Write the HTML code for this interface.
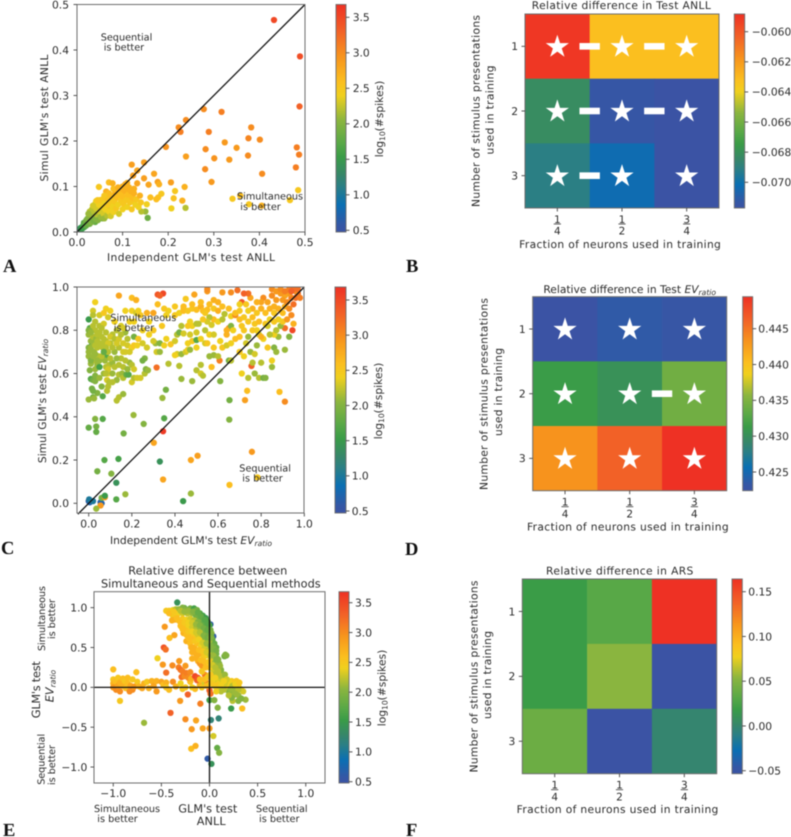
<!DOCTYPE html>
<html lang="en">
<head>
<meta charset="utf-8">
<title>GLM comparison figure</title>
<style>
html,body{margin:0;padding:0;background:#fff;}
#figure{display:block;width:791px;height:837px;filter:blur(0.45px);font-family:"DejaVu Sans","Liberation Sans",sans-serif;fill:#2b2b2b;text-rendering:geometricPrecision;}
.lab{font-size:10.7px;}
.note{font-size:9.7px;}
.big{font-size:11.3px;}
.letter{font-family:"Liberation Serif",serif;font-weight:bold;font-size:18.5px;fill:#111;}
.it{font-style:italic;}
.sub{font-size:7.6px;font-style:italic;}
.sub10{font-size:7.6px;}
</style>
</head>
<body>
<svg id="figure" xmlns="http://www.w3.org/2000/svg" width="791" height="837" viewBox="0 0 791 837">
<defs id="defs"></defs>

<g>
  <g id="a-marks"></g>
  <g id="a-axes"></g>
  <text class="lab" x="191" y="261" text-anchor="middle" textLength="168">Independent GLM's test ANLL</text>
  <text class="lab" transform="rotate(-90 47.8 118)" x="47.8" y="118" text-anchor="middle" textLength="127">Simul GLM's test ANLL</text>
  <text class="note" x="100.7" y="40.5">Sequential</text>
  <text class="note" x="103.7" y="50.5">is better</text>
  <text class="note" x="237" y="199.5">Simultaneous</text>
  <text class="note" x="240.3" y="210">is better</text>
  <g id="a-cbar"></g>
  <text class="lab" transform="rotate(-90 382.8 119)" x="382.8" y="119" text-anchor="middle">log<tspan class="sub10" dy="2">10</tspan><tspan dy="-2">(#spikes)</tspan></text>
  <text class="letter" x="3" y="272">A</text>
</g>

<g>
  <g id="b-marks"></g>
  <text class="lab" x="621.3" y="9" text-anchor="middle" textLength="179">Relative difference in Test ANLL</text>
  <text class="lab" x="620" y="248" text-anchor="middle" textLength="201.7">Fraction of neurons used in training</text>
  <text class="lab" transform="rotate(-90 479.7 111)" x="479.7" y="111" text-anchor="middle" textLength="192">Number of stimulus presentations</text>
  <text class="lab" transform="rotate(-90 493.7 110)" x="493.7" y="110" text-anchor="middle" textLength="89">used in training</text>
  <g id="b-cbar"></g>
  <text class="letter" x="406" y="272">B</text>
</g>

<g>
  <g id="c-marks"></g>
  <g id="c-axes"></g>
  <text class="lab" x="191" y="544" text-anchor="middle">Independent GLM's test <tspan class="it">EV</tspan><tspan class="sub" dy="2">ratio</tspan></text>
  <text class="lab" transform="rotate(-90 46 401)" x="46" y="401" text-anchor="middle">Simul GLM's test <tspan class="it">EV</tspan><tspan class="sub" dy="2">ratio</tspan></text>
  <text class="note" x="110.3" y="321">Simultaneous</text>
  <text class="note" x="113.7" y="331">is better</text>
  <text class="note" x="239.3" y="471.5">Sequential</text>
  <text class="note" x="242.3" y="481.5">is better</text>
  <g id="c-cbar"></g>
  <text class="lab" transform="rotate(-90 381.8 401)" x="381.8" y="401" text-anchor="middle">log<tspan class="sub10" dy="2">10</tspan><tspan dy="-2">(#spikes)</tspan></text>
  <text class="letter" x="1" y="554">C</text>
</g>

<g>
  <g id="d-marks"></g>
  <text class="lab" x="629.7" y="293" text-anchor="middle">Relative difference in Test <tspan class="it">EV</tspan><tspan class="sub" dy="2">ratio</tspan></text>
  <text class="lab" x="627.8" y="530.5" text-anchor="middle" textLength="201.7">Fraction of neurons used in training</text>
  <text class="lab" transform="rotate(-90 487.7 394)" x="487.7" y="394" text-anchor="middle" textLength="192">Number of stimulus presentations</text>
  <text class="lab" transform="rotate(-90 502 392)" x="502" y="392" text-anchor="middle" textLength="88">used in training</text>
  <g id="d-cbar"></g>
  <text class="letter" x="405" y="555">D</text>
</g>

<g>
  <g id="e-marks"></g>
  <g id="e-axes"></g>
  <text class="big" x="207.8" y="574.3" text-anchor="middle" textLength="159">Relative difference between</text>
  <text class="big" x="210.8" y="587.5" text-anchor="middle" textLength="219.7">Simultaneous and Sequential methods</text>
  <text class="note" x="94" y="812">Simultaneous</text>
  <text class="note" x="97.3" y="822">is better</text>
  <text class="big" x="207.8" y="812.5" text-anchor="middle" textLength="59">GLM's test</text>
  <text class="big" x="211.2" y="825" text-anchor="middle" textLength="29">ANLL</text>
  <text class="note" x="256" y="812">Sequential</text>
  <text class="note" x="259" y="822">is better</text>
  <text class="big" transform="rotate(-90 39.8 689.7)" x="39.8" y="689.7" text-anchor="middle" textLength="57">GLM's test</text>
  <text class="big" transform="rotate(-90 53.3 686)" x="53.3" y="686" text-anchor="middle"><tspan class="it">EV</tspan><tspan class="sub" dy="2">ratio</tspan></text>
  <text class="note" transform="rotate(-90 45.2 618.5)" x="45.2" y="618.5" text-anchor="middle" textLength="65">Simultaneous</text>
  <text class="note" transform="rotate(-90 55 619)" x="55" y="619" text-anchor="middle" textLength="40">is better</text>
  <text class="note" transform="rotate(-90 44.5 759.3)" x="44.5" y="759.3" text-anchor="middle" textLength="51">Sequential</text>
  <text class="note" transform="rotate(-90 55 765)" x="55" y="765" text-anchor="middle" textLength="40">is better</text>
  <g id="e-cbar"></g>
  <text class="lab" transform="rotate(-90 385.5 688)" x="385.5" y="688" text-anchor="middle">log<tspan class="sub10" dy="2">10</tspan><tspan dy="-2">(#spikes)</tspan></text>
  <text class="letter" x="3" y="836">E</text>
</g>

<g>
  <g id="f-marks"></g>
  <text class="lab" x="619.7" y="574.5" text-anchor="middle" textLength="147.3">Relative difference in ARS</text>
  <text class="lab" x="617.5" y="813" text-anchor="middle" textLength="201.7">Fraction of neurons used in training</text>
  <text class="lab" transform="rotate(-90 477.7 676.5)" x="477.7" y="676.5" text-anchor="middle" textLength="192">Number of stimulus presentations</text>
  <text class="lab" transform="rotate(-90 491 675)" x="491" y="675" text-anchor="middle" textLength="88">used in training</text>
  <g id="f-cbar"></g>
  <text class="letter" x="406" y="836">F</text>
</g>
</svg>

<script>
/* ---------- Panel A data: test ANLL ---------- */
const anllIndependent = [
.432,.489,.488,.278,.317,.239,.223,.227,.382,.289,
.376,.401,.195,.282,.324,.350,.482,.487,.375,.239,
.301,.334,.480,.281,.406,.295,.485,.120,.147,.132,
.123,.169,.147,.132,.157,.177,.180,.206,.236,.048,
.070,.078,.064,.215,.185,.161,.178,.174,.212,.231,
.207,.238,.153,.150,.155,.141,.341,.358,.377,.405,.467,
.015,.018,.022,.026,.03,.034,.038,.04,.044,.048,
.052,.056,.06,.064,.068,.072,.076,.08,.085,.09,
.095,.1,.105,.11,.115,.12,.125,.032,.04,.048,
.003,.005,.006,.008,.01,.012,.012,.015,.016,.018,
.02,.02,.022,.024,.025,.027,.028,.03,.03,.032,
.033,.034,.036,.038,.038,.04,.042,.042,.044,.046,
.048,.05,.05,.052,.054,.056,.058,.06,.06,.062,
.065,.066,.068,.07,.072,.074,.076,.078,.08,.082,
.084,.086,.088,.09,.092,.094,.096,.098,.1,.1,
.102,.105,.106,.108,.11,.112,.114,.116,.118,.12,
.122,.125,.128,.13,.135,.138,.14,.045,.035,.028,
.025,.07,.06,.08,.09,.1,.11];
const anllSimul = [
.466,.386,.276,.270,.264,.246,.230,.220,.230,.220,
.206,.203,.187,.182,.197,.185,.186,.170,.168,.166,
.162,.159,.142,.138,.128,.110,.092,.148,.153,.135,
.124,.128,.118,.107,.104,.110,.105,.109,.099,.099,
.109,.107,.089,.090,.084,.076,.076,.072,.074,.069,
.052,.053,.061,.045,.031,.045,.073,.080,.061,.058,.070,
.02,.013,.028,.018,.035,.024,.05,.022,.056,.034,
.064,.03,.072,.042,.07,.052,.062,.075,.06,.09,
.08,.065,.075,.095,.078,.068,.095,.045,.062,.05,
.003,.006,.004,.009,.007,.012,.008,.016,.011,.02,
.014,.025,.017,.03,.02,.036,.018,.042,.028,.022,
.05,.035,.025,.058,.045,.03,.068,.052,.038,.026,
.06,.07,.045,.033,.056,.072,.04,.063,.03,.05,
.075,.036,.06,.045,.07,.035,.08,.055,.044,.068,
.088,.052,.076,.06,.04,.085,.07,.095,.05,.078,
.062,.09,.105,.07,.055,.082,.098,.065,.09,.05,
.075,.085,.06,.072,.055,.08,.065,.07,.058,.045,
.04,.085,.08,.095,.098,.1,.108];
const anllSpikes = [
3.5,3.45,3.3,3.0,3.1,3.0,3.0,3.1,3.0,3.1,
3.05,3.0,2.95,3.0,2.9,2.9,3.1,3.1,3.0,2.85,
2.95,2.9,3.1,3.0,3.0,2.9,2.5,2.85,2.85,2.8,
2.85,2.8,2.85,2.8,2.8,2.85,2.7,2.85,2.7,2.5,
2.6,2.7,2.7,2.5,2.5,2.6,2.55,2.6,2.55,2.7,
2.4,2.2,2.4,2.1,1.85,2.2,2.5,2.6,2.5,2.7,2.5,
1.7,1.7,1.9,1.8,2.0,1.8,2.1,1.8,2.2,1.9,
2.3,1.9,2.4,2.1,2.5,2.3,2.4,2.5,2.5,2.6,
2.5,2.5,2.5,2.6,2.5,2.5,2.7,2.1,2.3,2.2,
1.0,1.2,1.3,1.4,1.5,1.6,1.5,1.7,1.6,1.8,
1.8,1.9,1.8,2.0,1.9,2.0,1.9,2.1,2.0,2.0,
2.2,2.1,1.9,2.3,2.2,2.0,2.4,2.3,2.2,2.0,
2.4,2.5,2.3,2.1,2.4,2.5,2.3,2.4,2.1,2.4,
2.6,2.2,2.5,2.4,2.5,2.3,2.6,2.4,2.4,2.5,
2.7,2.5,2.6,2.4,2.3,2.6,2.5,2.7,2.4,2.6,
2.5,2.7,2.8,2.5,2.4,2.6,2.7,2.5,2.7,2.5,
2.6,2.7,2.4,2.5,2.4,2.7,2.5,2.5,2.3,2.2,
2.1,2.6,2.5,2.6,2.7,2.7,2.7];

/* ---------- Panel C data: test EV ratio ---------- */
const evIndependent = [
0,.005,.002,.02,.055,.06,.055,.06,.075,.075,
.035,.128,.17,.128,.105,.04,.073,.138,.33,.345,
.474,.505,.474,.438,.653,.757,.783,.302,.345,.35,
.255,.208,.162,.03,.065,.035,.035,0,.342,.358,
.653,.652,.725,.735,.885,.91,.315,.607,.755,.945,
0,.005,0,.01,0,.015,.02,.025,.03,0,
.01,.005,.03,.04,.05,.045,.04,.035,.03,.05,
.06,.065,.08,.075,.09,.095,.09,.085,.09,.085,
.095,.01,.02,.03,.015,.04,.02,0,.025,.065,
.13,.14,.16,.14,.11,.13,.155,.16,.175,.185,
.2,.21,.225,.24,.26,.265,.275,.19,.2,.21,
.17,.15,.13,.11,.12,.14,.16,.18,.2,.21,
.225,.1,.11,.13,.15,.12,.08,.07,.09,.05,
.02,.02,.03,.08,.1,.07,.14,.2,.22,.2,
.22,.17,.19,.21,.23,.24,.27,.3,.32,.32,
.345,.33,.25,.28,.3,.21,.17,.16,.23,.25,
.27,.31,.33,.26,.25,.315,.33,.35,.38,.37,
.42,.43,.48,.5,.52,.53,.52,.41,.4,.43,
.45,.46,.47,.41,.42,.44,.46,.48,.48,.5,
.5,.51,.52,.54,.55,.56,.57,.58,.56,.58,
.57,.6,.61,.61,.62,.64,.65,.66,.66,.64,
.65,.66,.67,.68,.7,.7,.72,.73,.74,.75,
.76,.72,.71,.74,.77,.79,.81,.82,.8,.77,
.78,.79,.81,.83,.85,.86,.87,.85,.88,.91,
.93,.91,.86,.87,.89,.9,.92,.94,.95,.82,
.83,.84,.86,.88,.9,.91,.93,.95,.96,.94,
.97,.98,.96,.93,.91,.89,.87,.85,.86,.83,
.81,.8,.78,.76,.75,.74,.72,.71,.69,.66,
.62,.55,.55,.49,.45,.44,.37,.35,.4,.42,
.44,.46,.48,.5,.52,.53,.55,.58,.6,.63,
.65,.66,.68,.7,.71,.73,.74,.7,.68,.58,
.6,.56,.55,.53,.62,.64,.47,.46,.5,.77,
.78,.79,.8,.76,.84,
0,.01,.02,.03,.04,.05,.06,.07,.08,.09,
0,.01,.02,.03,.04,.05,.06,.07,.08,.1,
.01,.02,.03,.04,.05,.06,.07,.08,.1,.11,
.12,.13,.14,.15,.16,.17,.18,.19,.12,.14,
.16,.18,.03,.05,.07,.09,.11,.02,.06,.08,
.85,.87,.89,.91,.93,.95,.97,.9,.92,.94,
.8,.82,.84,.86,.88,.74,.76,.78,.72,.7,
.62,.6,.56,.52,.48,.44,.4,.36,.58,.54,
.28,.3,.34,.36,.4,.43,.47,.5,.54,.58];
const evSimul = [
.01,.005,.018,.01,.005,0,-.01,.025,.028,.035,
-.025,.018,.042,.095,.137,.148,.2,.205,.193,.11,
.2,.22,.045,.01,.085,.238,.12,.28,.333,.393,
.367,.408,.323,.39,.39,.355,.33,.35,.487,.525,
.477,.387,.477,.52,.515,.47,.628,.66,.635,.8,
.85,.81,.78,.75,.72,.73,.77,.70,.66,.68,
.645,.615,.62,.64,.63,.68,.72,.76,.8,.82,
.77,.72,.68,.66,.70,.64,.60,.57,.54,.52,
.56,.575,.57,.565,.53,.51,.49,.48,.485,.495,
.475,.49,.505,.595,.6,.57,.6,.58,.595,.595,
.56,.58,.58,.58,.6,.62,.615,.65,.64,.62,
.66,.67,.67,.65,.7,.72,.74,.73,.72,.73,
.73,.74,.78,.8,.82,.84,.79,.83,.86,.87,
.89,.87,.93,.9,.89,.88,.96,.95,.94,.89,
.88,.89,.84,.84,.89,.87,.88,.88,.92,.965,
.97,.96,.8,.78,.8,.77,.79,.81,.76,.74,
.72,.74,.74,.67,.66,.7,.7,.73,.735,.645,
.635,.575,.565,.615,.6,.59,.64,.69,.685,.69,
.7,.71,.71,.78,.79,.785,.74,.75,.82,.79,
.755,.83,.76,.74,.74,.78,.825,.72,.68,.685,
.63,.68,.565,.75,.72,.73,.66,.66,.74,.78,
.81,.82,.8,.76,.7,.77,.8,.74,.77,.7,
.65,.68,.6,.58,.6,.58,.58,.58,.65,.69,
.73,.78,.76,.72,.66,.72,.7,.63,.77,.71,
.77,.81,.78,.8,.82,.84,.85,.87,.83,.83,
.82,.85,.88,.85,.88,.91,.9,.92,.95,.95,
.97,.95,.98,.97,.96,.97,.94,.96,.91,.93,
.95,.9,.88,.9,.95,.97,.97,.93,.985,.975,
.975,.98,.99,.965,.945,.9,.89,.9,.87,.88,
.89,.89,.9,.895,.91,.89,.895,.9,.89,.875,
.9,.865,.87,.85,.82,.92,.89,.92,.88,.85,
.84,.86,.84,.85,.85,.8,.84,.82,.83,.83,
.8,.84,.77,.8,.78,
.7,.72,.74,.73,.75,.74,.73,.74,.75,.74,
.8,.79,.82,.84,.78,.79,.81,.76,.72,.77,
.66,.68,.69,.66,.66,.68,.7,.63,.67,.72,
.76,.74,.76,.78,.7,.7,.76,.7,.63,.64,
.63,.62,.59,.58,.6,.62,.56,.52,.54,.6,
.99,.98,.99,.98,.99,.99,.99,.94,.93,.98,
.93,.88,.9,.84,.9,.84,.86,.93,.86,.89,
.91,.93,.92,.93,.92,.91,.91,.87,.94,.88,
.84,.75,.82,.76,.75,.82,.78,.72,.8,.78];
const evSpikes = [
.6,.7,1.0,1.0,.6,.7,2.9,1.9,2.9,1.5,
2.1,1.7,2.1,1.4,2.0,1.9,1.7,1.6,1.4,2.8,
2.8,2.85,2.1,1.5,2.6,2.9,2.5,2.8,3.6,1.7,
2.0,2.1,1.9,2.0,1.7,1.9,1.8,1.8,2.1,1.9,
1.9,2.0,2.85,2.6,2.6,3.0,3.2,3.1,3.3,3.5,
1.5,1.7,2.1,2.1,2.0,1.6,2.2,2.1,2.2,2.1,
2.1,2.0,2.1,2.1,1.6,2.2,2.2,2.1,2.2,2.2,
2.2,2.2,1.7,2.1,2.2,2.2,2.4,2.3,2.2,2.2,
2.2,1.7,1.9,2.0,1.9,2.0,1.9,2.1,2.1,1.7,
2.2,2.2,2.1,2.2,2.1,2.1,2.1,2.2,1.8,1.7,
2.3,2.2,2.3,2.3,2.2,2.0,2.1,2.1,2.2,2.3,
2.2,2.2,2.1,2.1,2.1,2.2,2.3,2.3,2.4,2.5,
2.4,2.2,2.2,2.2,2.3,2.4,2.2,2.3,2.3,2.3,
2.3,2.2,2.4,2.4,2.4,2.5,2.8,2.6,2.7,2.4,
2.3,2.4,2.4,2.4,2.4,2.5,2.7,2.8,2.6,3.4,
3.5,3.3,2.4,2.4,2.5,1.9,2.1,2.3,2.5,2.3,
2.3,2.1,2.0,2.0,1.9,2.3,2.1,2.4,2.5,2.2,
2.2,2.1,2.1,2.2,2.3,2.2,2.2,2.3,2.4,2.1,
2.3,2.4,2.1,2.2,1.9,2.3,2.4,2.5,2.4,2.3,
1.7,2.2,2.4,2.3,2.5,2.4,2.3,2.5,2.1,2.1,
2.6,2.2,2.0,2.4,2.5,2.3,1.9,2.2,2.4,2.7,
2.9,2.0,2.4,2.6,2.5,2.6,2.5,2.3,2.1,2.1,
2.2,2.4,2.4,2.2,2.1,2.2,1.9,2.0,2.2,2.3,
2.1,2.3,2.4,2.5,2.4,2.0,2.1,2.1,2.1,2.1,
2.0,3.2,2.4,2.2,2.1,2.5,2.9,3.0,2.7,2.5,
2.3,2.4,2.5,2.4,2.6,2.7,3.0,3.2,3.2,3.1,
3.2,3.1,3.0,2.9,2.8,2.9,2.9,3.0,2.7,2.8,
3.0,2.7,2.5,2.7,2.8,3.2,3.3,3.4,3.2,3.0,
2.9,2.9,3.0,2.8,2.5,2.5,2.4,2.5,2.5,2.4,
2.6,2.5,2.5,2.6,2.7,2.6,2.6,2.5,2.7,2.2,
2.6,2.4,3.0,2.6,2.5,2.5,2.4,2.4,2.6,2.6,
2.4,2.2,2.3,2.5,2.2,2.7,2.4,2.5,2.2,2.5,
2.4,2.6,2.7,2.5,2.2,
2.1,2.1,2.1,2.2,2.2,2.2,2.2,2.2,2.2,2.3,
2.0,2.1,2.2,2.2,2.2,2.2,2.2,2.2,2.2,2.3,
2.0,2.1,2.1,2.1,2.1,2.2,1.8,2.2,2.2,2.2,
2.2,2.3,2.3,2.2,2.3,2.3,2.2,2.3,2.2,2.2,
2.2,2.1,2.0,2.1,2.1,2.3,2.2,1.9,2.0,2.2,
3.0,2.9,3.0,3.1,3.1,3.2,3.2,2.9,3.0,3.3,
2.8,2.6,2.7,2.5,2.7,2.5,2.6,2.7,2.5,2.5,
2.6,2.7,2.6,2.6,2.6,2.6,2.5,2.4,2.7,2.5,
2.4,2.3,2.5,2.4,2.3,2.2,2.3,2.4,2.2,2.3];

/* ---------- Panel E data: relative differences ---------- */
const diffAnll = [
-.335,-.26,.01,.04,-.465,-.365,-.415,-.475,-.455,-.54,
-.485,-.385,-.45,-.315,-1.0,-.76,-.93,-.68,-.405,-.305,
-.225,-.25,-.14,-.185,-.07,0,.04,-.19,-.145,.08,
.1,-.02,.02,.015,.095,.085,0,.05,-.095,.225,
.34,.375,.3,.24,.175,.155,.165,
-1,-1,-1,-.98,-.97,-.95,-.95,-.93,-.93,-.9,
-.9,-.88,-.87,-.85,-.85,-.83,-.82,-.8,-.8,-.78,
-.75,-.73,-.7,-.68,-.65,-.63,-.6,-.58,-.55,-.55,
-.5,-.48,-.45,-.45,-.42,-.38,-.35,-.3,-.28,-.25,
-.2,-.18,-.15,-.1,-.08,-.05,
-.32,-.3,-.28,-.29,-.26,-.25,-.24,-.22,-.2,-.19,
-.18,-.15,-.13,-.12,-.1,-.12,-.1,-.08,-.05,-.04,
-.02,0,.01,
-.45,-.42,-.38,-.35,-.32,-.28,-.25,-.2,-.16,-.13,
-.1,-.07,-.04,-.02,0,.01,.02,.03,.05,.07,
.07,.08,.1,.12,.13,.15,.17,.2,.25,.3,
.28,.3,.32,.25,.22,.2,.33,.35,.28,.23,
.2,.18,.16,.12,.1,.08,.05,.05,.03,.1,
.12,.07,.15,
-.38,-.33,-.28,-.23,-.18,-.14,-.1,-.06,-.36,-.39,
-.32,-.28,-.24,-.2,-.16,-.12,-.08,-.04,-.3,-.26,
-.22,-.18,-.14,-.1,-.06,-.02,-.27,-.24,-.2,-.16,
-.12,-.08,-.04,0,.02,-.24,-.2,-.16,-.13,-.09,
-.05,-.01,.03,.05,-.18,-.14,-.1,-.06,-.02,.02,
.05,.08,.04,0,-.04,-.08,.02,.06,.09,
-.42,-.37,-.3,-.26,-.22,-.17,-.12,-.09,-.05,-.02,
-.34,-.3,-.26,-.22,-.18,-.14,-.1,-.06,-.02,.02,
-.28,-.25,-.22,-.18,-.14,-.1,-.06,-.02,.01,.04,
-.22,-.18,-.15,-.11,-.07,-.03,.01,.05,.07,-.19,
-.15,-.11,-.07,-.03,.01,.04,.07,.09,.1,.11,
-.13,-.09,-.05,-.01,.03,.06,.09,.12,.14,.16,
.22,.24,.26,.27,.3,.31,.27,.23,.2,.18,
-.05,-.02,.01,.03,.06,.09,.12,.15,-.03,.01];
const diffEv = [
1.065,.995,.79,.64,.76,.655,.62,.5,.475,.365,
.285,.275,.185,.33,.225,.19,-.17,-.445,-.32,-.17,
-.09,-.4,-.415,-.525,-.515,-.515,-.61,-.77,-.735,-.76,
-.82,-.895,-.96,-.41,-.39,-.255,-.16,-.16,-.205,-.265,
-.265,-.155,-.17,-.17,.4,.39,.41,
.1,.05,0,.08,-.03,.12,.02,.06,-.05,.11,
.02,.08,-.01,.12,.05,-.05,.02,.1,-.03,.01,
.07,.01,-.01,.05,.07,-.01,.08,.02,.08,-.05,
.07,.03,.06,0,-.03,.07,.01,.05,-.02,0,
.07,0,-.02,.03,0,.06,
.25,.22,.2,.13,.14,.27,.18,.12,.19,.11,
.36,.14,.09,.12,.1,.33,.3,.27,.16,.13,
.05,-.04,-.08,
.96,.96,.97,.98,.98,1.0,.98,.99,.99,.97,
.93,.9,.87,.83,.78,.72,.68,.6,.55,.5,
.42,.36,.3,.22,.17,.12,.08,.03,.05,.03,
-.05,-.1,-.02,-.1,-.08,-.05,-.14,-.05,.08,.08,
.08,.02,.05,.07,.1,.05,.1,.02,.05,0,
-.05,-.05,-.03,
.9,.92,.93,.93,.93,.9,.87,.83,.85,.84,
.84,.86,.85,.86,.84,.82,.79,.76,.77,.76,
.77,.76,.74,.75,.7,.68,.68,.66,.65,.64,
.66,.62,.6,.58,.52,.58,.55,.5,.55,.52,
.5,.46,.45,.38,.44,.42,.42,.38,.4,.35,
.3,.25,.22,.25,.25,.2,.15,.17,.15,
.93,.95,.96,.95,.96,.95,.94,.89,.85,.8,
.87,.81,.81,.81,.81,.79,.78,.74,.72,.63,
.73,.71,.7,.7,.69,.69,.65,.63,.62,.52,
.62,.6,.58,.6,.56,.55,.52,.48,.46,.5,
.47,.47,.45,.44,.4,.4,.35,.35,.26,.27,
.36,.34,.32,.32,.28,.25,.2,.14,.08,.16,
-.02,.02,-.03,.04,-.03,.06,-.08,-.13,-.1,.1,
.1,.13,.16,.09,.12,.03,.03,.08,.02,.05];
const diffSpikes = [
1.4,1.7,.6,.6,2.9,2.8,2.6,3.4,3.2,2.4,
2.9,3.0,3.2,2.9,2.6,2.6,2.5,2.1,3.3,2.9,
3.3,3.0,2.8,2.9,2.8,2.9,2.3,2.6,2.7,1.8,
2.0,.6,1.4,1.2,1.2,2.0,1.6,2.0,3.1,1.5,
2.6,2.1,2.0,2.2,2.0,1.9,2.0,
2.5,2.7,2.9,2.6,3.0,2.5,2.8,2.7,3.0,2.6,
2.7,2.5,2.6,2.6,2.6,3.0,2.8,2.5,3.0,2.9,
2.5,2.7,2.8,2.7,2.5,2.7,2.7,2.8,2.7,2.9,
2.8,2.6,2.7,2.5,2.6,3.0,2.7,2.4,2.5,2.5,
2.6,2.4,2.6,2.7,2.5,2.3,
3.1,3.2,3.1,3.2,3.0,2.9,3.1,3.0,3.0,2.7,
2.7,3.5,3.3,3.4,2.6,2.7,2.9,2.9,2.9,3.2,
3.2,3.3,3.2,
2.5,2.5,2.4,2.2,2.1,2.0,2.0,1.9,1.6,1.9,
1.7,1.6,1.5,1.6,1.6,1.9,2.0,1.8,1.8,1.8,
1.9,2.0,2.0,2.0,2.0,2.0,2.1,2.2,2.4,2.5,
2.1,2.1,2.4,2.0,2.1,2.0,2.0,2.3,2.5,2.5,
2.4,2.4,2.3,2.5,2.3,2.4,2.3,2.4,2.5,2.3,
2.2,2.4,2.2,
2.5,2.4,2.3,2.2,2.1,1.9,1.9,1.9,2.7,2.7,
2.6,2.5,2.4,2.3,2.2,2.0,1.8,1.8,2.6,2.6,
2.4,2.3,2.2,2.1,1.9,1.9,2.7,2.6,2.6,2.5,
2.3,2.2,2.0,2.1,2.0,2.7,2.6,2.7,2.6,2.4,
2.3,2.2,2.0,2.0,2.7,2.7,2.7,2.5,2.4,2.3,
2.1,2.1,2.3,2.4,2.6,2.5,2.4,2.2,2.2,
2.6,2.5,2.2,2.1,2.1,2.0,1.8,1.8,1.7,1.7,
2.6,2.6,2.5,2.4,2.3,2.1,2.0,1.9,1.8,1.9,
2.6,2.6,2.5,2.4,2.3,2.2,2.0,1.9,2.0,1.9,
2.6,2.6,2.5,2.4,2.3,2.1,2.0,2.0,1.9,2.7,
2.7,2.6,2.5,2.3,2.2,2.1,2.0,2.0,2.0,2.1,
2.7,2.6,2.6,2.5,2.3,2.2,2.2,2.2,2.3,2.1,
2.1,2.2,2.1,2.4,2.2,2.5,2.1,2.0,2.2,2.3,
2.6,2.5,2.5,2.4,2.4,2.5,2.4,2.4,2.6,2.5];

/* ---------- Heatmap data ---------- */
const fractionNumerators = [1, 1, 3];
const fractionDenominators = [4, 2, 4];
const presentationLabels = ['1', '2', '3'];

const anllRow1 = [-0.0590, -0.0632, -0.0632];
const anllRow2 = [-0.0682, -0.0714, -0.0717];
const anllRow3 = [-0.0691, -0.0703, -0.0717];
const anllStarRows = [0, 0, 0, 1, 1, 1, 2, 2, 2];
const anllStarCols = [0, 1, 2, 0, 1, 2, 0, 1, 2];
const anllDashRows = [0, 0, 1, 1, 2];
const anllDashCols = [0, 1, 0, 1, 0];

const evRow1 = [0.4224, 0.4235, 0.4230];
const evRow2 = [0.4313, 0.4303, 0.4343];
const evRow3 = [0.4433, 0.4463, 0.4495];
const evStarRows = [0, 0, 0, 1, 1, 1, 2, 2, 2];
const evStarCols = [0, 1, 2, 0, 1, 2, 0, 1, 2];
const evDashRows = [1];
const evDashCols = [1];

const arsRow1 = [0.0184, 0.0315, 0.1642];
const arsRow2 = [0.0184, 0.0532, -0.0534];
const arsRow3 = [0.0400, -0.0534, -0.0012];

/* ---------- Tick values ---------- */
const anllTicks = [0, 0.1, 0.2, 0.3, 0.4, 0.5];
const anllTickLabels = ['0.0', '0.1', '0.2', '0.3', '0.4', '0.5'];
const evTicks = [0, 0.2, 0.4, 0.6, 0.8, 1.0];
const evTickLabels = ['0.0', '0.2', '0.4', '0.6', '0.8', '1.0'];
const diffTicks = [-1, -0.5, 0, 0.5, 1];
const diffTickLabels = ['\u22121.0', '\u22120.5', '0.0', '0.5', '1.0'];
const spikeTicks = [0.5, 1, 1.5, 2, 2.5, 3, 3.5];
const spikeTickLabels = ['0.5', '1.0', '1.5', '2.0', '2.5', '3.0', '3.5'];
const anllCbarTicks = [-0.060, -0.062, -0.064, -0.066, -0.068, -0.070];
const anllCbarLabels = ['\u22120.060', '\u22120.062', '\u22120.064', '\u22120.066', '\u22120.068', '\u22120.070'];
const evCbarTicks = [0.425, 0.430, 0.435, 0.440, 0.445];
const evCbarLabels = ['0.425', '0.430', '0.435', '0.440', '0.445'];
const arsCbarTicks = [-0.05, 0, 0.05, 0.10, 0.15];
const arsCbarLabels = ['\u22120.05', '0.00', '0.05', '0.10', '0.15'];

/* ---------- Colormap ---------- */
const cmapPositions = [0, .03, .12, .2, .25, .33, .39, .49, .6, .66, .77, .88, 1];
const cmapColors = ['#3b53a4', '#3557a5', '#0a6fb3', '#2b7f85', '#37866a', '#3a9c47', '#58a847', '#8ab53f', '#f0d01e', '#fbbf1f', '#f7941d', '#f26227', '#ee3124'];

const SVG_NS = 'http://www.w3.org/2000/svg';

function shape(tag, props, parent) {
  const node = document.createElementNS(SVG_NS, tag);
  for (const key in props) node.setAttribute(key, props[key]);
  parent.appendChild(node);
  return node;
}
function linear(d0, d1, r0, r1) {
  return function (v) { return r0 + (v - d0) * (r1 - r0) / (d1 - d0); };
}
function hexToRgb(h) {
  return [parseInt(h.slice(1, 3), 16), parseInt(h.slice(3, 5), 16), parseInt(h.slice(5, 7), 16)];
}
function colorAt(t) {
  const v = Math.max(0, Math.min(1, t));
  for (let i = 1; i < cmapPositions.length; i++) {
    if (v <= cmapPositions[i]) {
      const f = (v - cmapPositions[i - 1]) / (cmapPositions[i] - cmapPositions[i - 1]);
      const a = hexToRgb(cmapColors[i - 1]);
      const b = hexToRgb(cmapColors[i]);
      return 'rgb(' + a.map(function (c, k) { return Math.round(c + (b[k] - c) * f); }).join(',') + ')';
    }
  }
  return cmapColors[cmapColors.length - 1];
}

const defs = document.getElementById('defs');
const gradient = shape('linearGradient', { id: 'cmap-gradient', x1: 0, y1: 1, x2: 0, y2: 0 }, defs);
cmapPositions.forEach(function (p, i) {
  shape('stop', { offset: p, 'stop-color': cmapColors[i] }, gradient);
});

function drawTick(parent, x1, y1, x2, y2) {
  const tick = shape('line', { x1: x1, y1: y1, x2: x2, y2: y2, stroke: '#444', 'stroke-width': 0.9 }, parent);
  
  
}
function drawLabel(parent, x, y, anchor, content) {
  const label = shape('text', { x: x, y: y, 'text-anchor': anchor, class: 'lab' }, parent);
  
  
  label.textContent = content;
  return label;
}
function drawFrame(parent, b) {
  const frame = shape('rect', { x: b.left, y: b.top, width: b.right - b.left, height: b.bottom - b.top, fill: 'none', stroke: '#6e6e6e', 'stroke-width': 1 }, parent);
  
  
}

const spikeColor = linear(0.47, 3.68, 0, 1);

function drawScatter(id, xs, ys, cs, xScale, yScale, bounds, pointName) {
  const group = document.getElementById(id);
  const clip = shape('clipPath', { id: id + '-clip' }, defs);
  shape('rect', { x: bounds.left, y: bounds.top, width: bounds.right - bounds.left, height: bounds.bottom - bounds.top }, clip);
  group.setAttribute('clip-path', 'url(#' + id + '-clip)');
  xs.forEach(function (xv, i) {
    const dot = shape('circle', { cx: xScale(xv), cy: yScale(ys[i]), r: 3.15, fill: colorAt(spikeColor(cs[i])) }, group);
    
    
  });
}

function drawAxes(id, bounds, xScale, yScale, xTicks, xLabels, yTicks, yLabels, labelGapX, labelBaseY) {
  const group = document.getElementById(id);
  drawFrame(group, bounds);
  xTicks.forEach(function (v, i) {
    drawTick(group, xScale(v), bounds.bottom, xScale(v), bounds.bottom + 3.5);
    drawLabel(group, xScale(v), labelBaseY, 'middle', xLabels[i]);
  });
  yTicks.forEach(function (v, i) {
    drawTick(group, bounds.left, yScale(v), bounds.left - 3.5, yScale(v));
    drawLabel(group, labelGapX, yScale(v) + 3.8, 'end', yLabels[i]);
  });
}

function drawColorbar(id, left, right, top, bottom, valueToY, ticks, labels, labelX) {
  const group = document.getElementById(id);
  const bar = shape('rect', { x: left, y: top, width: right - left, height: bottom - top, fill: 'url(#cmap-gradient)', stroke: '#6e6e6e', 'stroke-width': 0.9 }, group);
  
  
  ticks.forEach(function (v, i) {
    const y = valueToY(v);
    drawTick(group, right, y, right + 3.5, y);
    drawLabel(group, labelX, y + 3.8, 'start', labels[i]);
  });
}

function starPoints(cx, cy, R) {
  const pts = [];
  for (let k = 0; k < 10; k++) {
    const rad = k % 2 === 0 ? R : R * 0.382;
    const ang = -Math.PI / 2 + k * Math.PI / 5;
    pts.push((cx + rad * Math.cos(ang)).toFixed(2) + ',' + (cy + rad * Math.sin(ang)).toFixed(2));
  }
  return pts.join(' ');
}

function drawHeatmap(id, bounds, rows, vmin, vmax, starRows, starCols, dashRows, dashCols) {
  const group = document.getElementById(id);
  const cellW = (bounds.right - bounds.left) / 3;
  const cellH = (bounds.bottom - bounds.top) / 3;
  const colX = linear(0, 3, bounds.left, bounds.right);
  const rowY = linear(0, 3, bounds.top, bounds.bottom);
  const norm = linear(vmin, vmax, 0, 1);
  rows.forEach(function (row, r) {
    row.forEach(function (value, c) {
      const cell = shape('rect', { x: colX(c), y: rowY(r), width: cellW + 0.3, height: cellH + 0.3, fill: colorAt(norm(value)) }, group);
      
      
    });
  });
  starRows.forEach(function (r, i) {
    const star = shape('polygon', { points: starPoints(colX(starCols[i] + 0.5), rowY(r + 0.5) + 0.6, 12.2), fill: '#fff' }, group);
    
    
  });
  dashRows.forEach(function (r, i) {
    const dash = shape('rect', { x: colX(dashCols[i] + 1) - 10.2, y: rowY(r + 0.5) - 3.3, width: 20.4, height: 6.6, fill: '#fff' }, group);
    
    
  });
  drawFrame(group, bounds);
  fractionNumerators.forEach(function (num, i) {
    const cx = colX(i + 0.5);
    drawTick(group, cx, bounds.bottom, cx, bounds.bottom + 3.5);
    const top = drawLabel(group, cx, bounds.bottom + 14.8, 'middle', String(num));
    top.setAttribute('style', 'font-size:10.5px');
    const bar = shape('line', { x1: cx - 3.6, x2: cx + 3.6, y1: bounds.bottom + 16, y2: bounds.bottom + 16, stroke: '#333', 'stroke-width': 0.8 }, group);
    
    
    const bottom = drawLabel(group, cx, bounds.bottom + 26.6, 'middle', String(fractionDenominators[i]));
    bottom.setAttribute('style', 'font-size:10.5px');
  });
  presentationLabels.forEach(function (lab, r) {
    const cy = rowY(r + 0.5);
    drawTick(group, bounds.left, cy, bounds.left - 3.5, cy);
    drawLabel(group, bounds.left - 7, cy + 3.8, 'end', lab);
  });
}

/* Panel A */
const aBounds = { left: 77, right: 305, top: 4.5, bottom: 232 };
const ax = linear(0, 0.5, aBounds.left, aBounds.right);
const ay = linear(0, 0.5, aBounds.bottom, aBounds.top);
drawScatter('a-marks', anllIndependent, anllSimul, anllSpikes, ax, ay, aBounds, 'anll-point');
const aDiagonal = shape('line', { x1: ax(0), y1: ay(0), x2: ax(0.5), y2: ay(0.5), stroke: '#111', 'stroke-width': 1.3 }, document.getElementById('a-axes'));


drawAxes('a-axes', aBounds, ax, ay, anllTicks, anllTickLabels, anllTicks, anllTickLabels, 69, 246);
drawColorbar('a-cbar', 336, 346, 4.5, 232, linear(0.5, 3.5, 230.3, 17.3), spikeTicks, spikeTickLabels, 352.7);

/* Panel C */
const cBounds = { left: 77, right: 304, top: 287, bottom: 513 };
const cx = linear(0, 1, 88.7, 304.3);
const cy = linear(0, 1, 503.3, 287);
drawScatter('c-marks', evIndependent, evSimul, evSpikes, cx, cy, cBounds, 'ev-point');
const cDiagonal = shape('line', { x1: cx(-0.05), y1: cy(-0.05), x2: cx(1), y2: cy(1), stroke: '#111', 'stroke-width': 1.3 }, document.getElementById('c-axes'));


drawAxes('c-axes', cBounds, cx, cy, evTicks, evTickLabels, evTicks, evTickLabels, 69, 527.5);
drawColorbar('c-cbar', 335, 346, 287, 513, linear(0.5, 3.5, 511, 300), spikeTicks, spikeTickLabels, 351.7);

/* Panel E */
const eBounds = { left: 94, right: 325, top: 591.7, bottom: 783 };
const ex = linear(-1.2, 1.2, eBounds.left, eBounds.right);
const ey = linear(-1.2, 1.2, eBounds.bottom, eBounds.top);
drawScatter('e-marks', diffAnll, diffEv, diffSpikes, ex, ey, eBounds, 'difference-point');
const eAxesGroup = document.getElementById('e-axes');
const eHorizontal = shape('line', { x1: eBounds.left, y1: ey(0), x2: eBounds.right, y2: ey(0), stroke: '#111', 'stroke-width': 1.3 }, eAxesGroup);


const eVertical = shape('line', { x1: ex(0), y1: eBounds.top, x2: ex(0), y2: eBounds.bottom, stroke: '#111', 'stroke-width': 1.3 }, eAxesGroup);


drawAxes('e-axes', eBounds, ex, ey, diffTicks, diffTickLabels, diffTicks, diffTickLabels, 87.3, 797);
drawColorbar('e-cbar', 339, 349, 591.7, 783, linear(0.5, 3.5, 781.7, 602.7), spikeTicks, spikeTickLabels, 355);

/* Panel B */
const bBounds = { left: 525, right: 719, top: 14, bottom: 208 };
drawHeatmap('b-marks', bBounds, [anllRow1, anllRow2, anllRow3], -0.0717, -0.0588, anllStarRows, anllStarCols, anllDashRows, anllDashCols);
drawColorbar('b-cbar', 734.3, 744.7, 14, 208, linear(-0.060, -0.070, 31.7, 182.3), anllCbarTicks, anllCbarLabels, 751.7);

/* Panel D */
const dBounds = { left: 532.7, right: 726.7, top: 296.7, bottom: 490.7 };
drawHeatmap('d-marks', dBounds, [evRow1, evRow2, evRow3], 0.4224, 0.4495, evStarRows, evStarCols, evDashRows, evDashCols);
drawColorbar('d-cbar', 742.7, 752.7, 296.7, 490.7, linear(0.445, 0.425, 328.7, 472), evCbarTicks, evCbarLabels, 758.3);

/* Panel F */
const fBounds = { left: 522.3, right: 716.7, top: 579, bottom: 773.7 };
drawHeatmap('f-marks', fBounds, [arsRow1, arsRow2, arsRow3], -0.0534, 0.1642, [], [], [], []);
drawColorbar('f-cbar', 732, 742.3, 579, 773.7, linear(0.15, -0.05, 591.7, 770.7), arsCbarTicks, arsCbarLabels, 748.3);
</script>
</body>
</html>
